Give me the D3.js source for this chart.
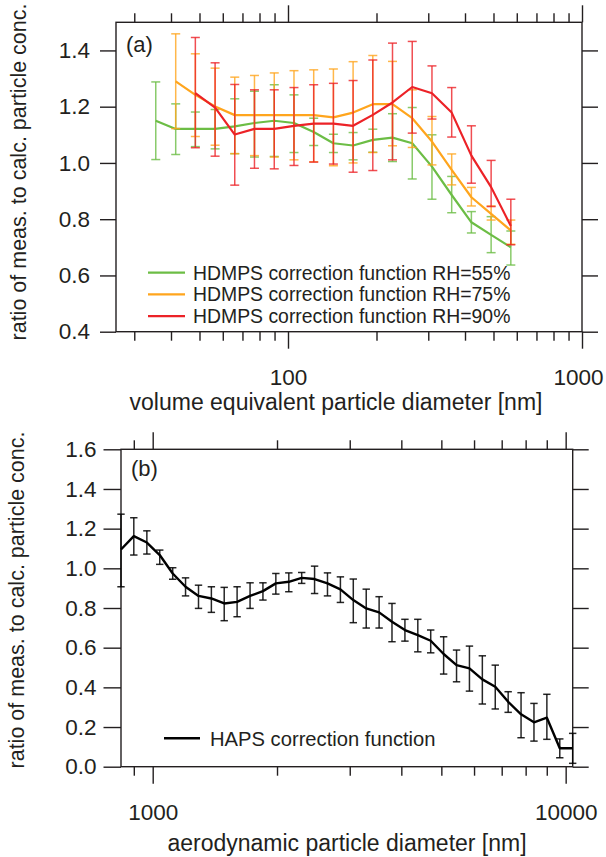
<!DOCTYPE html>
<html>
<head>
<meta charset="utf-8">
<script src="https://cdnjs.cloudflare.com/ajax/libs/d3/7.8.5/d3.min.js"></script>
<style>
body { margin: 0; background: #fff; }
text { font-family: "Liberation Sans", Arial, Helvetica, sans-serif; fill: #231f20; }
</style>
</head>
<body>
<div id="chart-area"></div>
<script>
// Panel (a): HDMPS, volume equivalent diameter [nm]
var diamA = [35.5, 41.5, 48.4, 56.5, 65.9, 76.9, 89.8, 104.8, 122.3, 142.7,
             166.5, 194.3, 226.7, 264.6, 308.8, 360.4, 420.5, 490.8, 572.7];

var rh55   = [1.150, 1.121, 1.121, 1.121, 1.130, 1.142, 1.150, 1.142, 1.110, 1.070,
              1.062, 1.082, 1.090, 1.070, 0.987, 0.886, 0.789, 0.744, 0.700];
var rh55Lo = [1.012, 1.030, 1.058, 1.050, 1.033, 1.021, 1.023, 1.037, 1.062, 1.037,
              1.011, 1.038, 1.005, 0.943, 0.871, 0.823, 0.751, 0.681, 0.637];
var rh55Hi = [1.288, 1.210, 1.181, 1.190, 1.228, 1.255, 1.278, 1.242, 1.159, 1.102,
              1.108, 1.120, 1.175, 1.197, 1.100, 0.952, 0.827, 0.809, 0.758];

var rh75   = [null, 1.290, 1.242, 1.201, 1.170, 1.170, 1.170, 1.170, 1.170, 1.162,
              1.179, 1.209, 1.209, 1.159, 1.076, 0.975, 0.878, 0.819, 0.760];
var rh75Lo = [null, 1.122, 1.094, 1.063, 1.033, 1.026, 1.021, 1.011, 1.004, 0.990,
              1.000, 1.037, 1.061, 1.055, 0.993, 0.922, 0.847, 0.797, 0.711];
var rh75Hi = [null, 1.459, 1.388, 1.337, 1.305, 1.311, 1.320, 1.328, 1.331, 1.334,
              1.360, 1.382, 1.361, 1.260, 1.165, 1.032, 0.913, 0.847, 0.797];

var rh90   = [null, null, 1.248, 1.197, 1.101, 1.121, 1.121, 1.132, 1.140, 1.140,
              1.132, 1.171, 1.215, 1.270, 1.248, 1.179, 1.026, 0.914, 0.776];
var rh90Lo = [null, null, 1.054, 1.024, 0.921, 0.981, 0.979, 0.991, 1.003, 0.996,
              0.967, 0.973, 1.011, 1.106, 1.156, 1.092, 0.928, 0.845, 0.709];
var rh90Hi = [null, null, 1.446, 1.356, 1.279, 1.260, 1.260, 1.268, 1.278, 1.283,
              1.293, 1.366, 1.426, 1.432, 1.345, 1.268, 1.132, 1.009, 0.871];

var namesA = ["HDMPS correction function RH=55%",
              "HDMPS correction function RH=75%",
              "HDMPS correction function RH=90%"];
var colorsA = ["#6cbd45", "#ffa51d", "#ec2227"];

var xTicksA = [100, 1000];
var xMinorA = [30, 40, 50, 60, 70, 80, 90, 200, 300, 400, 500, 600, 700, 800, 900];
var yTicksA = [0.4, 0.6, 0.8, 1.0, 1.2, 1.4];

// Panel (b): HAPS, aerodynamic diameter [nm]
var diamB = [838, 900, 968, 1040, 1118, 1201, 1291, 1387, 1490, 1601,
             1721, 1849, 1987, 2136, 2295, 2466, 2650, 2848, 3060, 3289,
             3534, 3797, 4081, 4385, 4712, 5064, 5442, 5848, 6284, 6753,
             7257, 7798, 8380, 9005, 9677, 10398];
var haps   = [1.095, 1.162, 1.130, 1.067, 0.974, 0.907, 0.861, 0.848, 0.823, 0.831,
              0.861, 0.885, 0.924, 0.932, 0.952, 0.946, 0.924, 0.894, 0.840, 0.798,
              0.778, 0.731, 0.689, 0.663, 0.635, 0.568, 0.512, 0.496, 0.440, 0.403,
              0.327, 0.264, 0.224, 0.247, 0.093, 0.093];
var hapsLo = [0.907, 1.067, 1.072, 1.020, 0.945, 0.861, 0.798, 0.778, 0.736, 0.756,
              0.798, 0.840, 0.870, 0.882, 0.924, 0.873, 0.861, 0.828, 0.726, 0.699,
              0.699, 0.630, 0.633, 0.579, 0.574, 0.467, 0.428, 0.381, 0.316, 0.291,
              0.274, 0.146, 0.129, 0.138, 0.045, 0.017];
var hapsHi = [1.273, 1.255, 1.189, 1.092, 1.003, 0.952, 0.915, 0.907, 0.904, 0.907,
              0.927, 0.927, 0.974, 0.977, 0.979, 1.011, 0.977, 0.957, 0.946, 0.895,
              0.857, 0.823, 0.743, 0.743, 0.689, 0.655, 0.588, 0.608, 0.559, 0.512,
              0.378, 0.373, 0.319, 0.365, 0.140, 0.168];

var xTicksB = [1000, 10000];
var xMinorB = [900, 2000, 3000, 4000, 5000, 6000, 7000, 8000, 9000];
var yTicksB = [0, 0.2, 0.4, 0.6, 0.8, 1.0, 1.2, 1.4, 1.6];

var svg = d3.select("#chart-area")
    .append("svg")
        .attr("width", 606)
        .attr("height", 857);

var ink = "#231f20";

function makePanel(p) {
    var width = p.right - p.left,
        height = p.bottom - p.top;

    var g = svg.append("g")
        .attr("transform", "translate(" + p.left + "," + p.top + ")");

    // X Scale (log)
    var x = d3.scaleLog()
        .domain(p.xDomain)
        .range([0, width]);

    // Y Scale
    var y = d3.scaleLinear()
        .domain(p.yDomain)
        .range([height, 0]);

    function style(sel) {
        sel.select(".domain").remove();
        sel.selectAll("line").attr("stroke", ink).attr("stroke-width", 1.4);
        sel.attr("font-size", 22.5)
            .attr("font-family", "'Liberation Sans', Arial, sans-serif");
    }

    // X axes, bottom and top: major + minor ticks
    var xMajor = g.append("g").attr("transform", "translate(0," + height + ")")
        .call(d3.axisBottom(x).tickValues(p.xTicks).tickSize(17).tickPadding(20)
            .tickFormat(d3.format("d")))
        .call(style);
    // keep the right-hand label inside the page
    xMajor.selectAll("text")
        .attr("dx", function(d){ return x(d) + 27 > 606 - p.left ? -(x(d) + 27 - (605 - p.left)) : 0; });
    g.append("g").attr("transform", "translate(0," + height + ")")
        .call(d3.axisBottom(x).tickValues(p.xMinor).tickSize(9).tickFormat(""))
        .call(style);
    g.append("g")
        .call(d3.axisTop(x).tickValues(p.xTicks).tickSize(17).tickFormat(""))
        .call(style);
    g.append("g")
        .call(d3.axisTop(x).tickValues(p.xMinor).tickSize(9).tickFormat(""))
        .call(style);

    // Y axes, left with labels, right mirrored
    g.append("g")
        .call(d3.axisLeft(y).tickValues(p.yTicks).tickSize(p.yTick)
            .tickPadding(p.yPad).tickFormat(d3.format(".1f")))
        .call(style);
    g.append("g").attr("transform", "translate(" + width + ",0)")
        .call(d3.axisRight(y).tickValues(p.yTicks).tickSize(16).tickFormat(""))
        .call(style);

    // Frame
    g.append("rect")
        .attr("width", width)
        .attr("height", height)
        .attr("fill", "none")
        .attr("stroke", ink)
        .attr("stroke-width", 1.4);

    // X Label
    g.append("text")
        .attr("x", p.xLabelX - p.left)
        .attr("y", p.xLabelY - p.top)
        .attr("font-size", "23px")
        .attr("text-anchor", "middle")
        .text(p.xLabel);

    // Y Label
    g.append("text")
        .attr("transform", "translate(" + (p.yLabelX - p.left) + "," +
            (p.yLabelY - p.top) + ") rotate(-90)")
        .attr("font-size", "21.5px")
        .attr("text-anchor", "middle")
        .text("ratio of meas. to calc. particle conc.");

    // Panel tag
    g.append("text")
        .attr("x", p.tagX - p.left)
        .attr("y", p.tagY - p.top)
        .attr("font-size", "22px")
        .text(p.tag);

    return { g: g, x: x, y: y };
}

function drawSeries(panel, xs, vals, lo, hi, color, lineW, capW, errOpacity) {
    var data = [];
    vals.forEach(function(v, i) {
        if (v !== null) data.push({ d: xs[i], v: v, lo: lo[i], hi: hi[i] });
    });
    var x = panel.x, y = panel.y;

    var eb = panel.g.append("g")
        .attr("stroke", color)
        .attr("stroke-width", 1.5)
        .attr("stroke-opacity", errOpacity);
    eb.selectAll(".bar").data(data).enter().append("line")
        .attr("x1", function(d){ return x(d.d); })
        .attr("x2", function(d){ return x(d.d); })
        .attr("y1", function(d){ return y(d.lo); })
        .attr("y2", function(d){ return y(d.hi); });
    eb.selectAll(".capLo").data(data).enter().append("line")
        .attr("x1", function(d){ return x(d.d) - capW; })
        .attr("x2", function(d){ return x(d.d) + capW; })
        .attr("y1", function(d){ return y(d.lo); })
        .attr("y2", function(d){ return y(d.lo); });
    eb.selectAll(".capHi").data(data).enter().append("line")
        .attr("x1", function(d){ return x(d.d) - capW; })
        .attr("x2", function(d){ return x(d.d) + capW; })
        .attr("y1", function(d){ return y(d.hi); })
        .attr("y2", function(d){ return y(d.hi); });

    var line = d3.line()
        .x(function(d){ return x(d.d); })
        .y(function(d){ return y(d.v); });

    panel.g.append("path")
        .datum(data)
        .attr("d", line)
        .attr("fill", "none")
        .attr("stroke", color)
        .attr("stroke-width", lineW)
        .attr("stroke-linejoin", "round");
}

// ---------- Panel (a)
var pA = makePanel({
    left: 116, right: 582, top: 22.3, bottom: 331.7,
    xDomain: [26, 1000], yDomain: [0.4, 1.5],
    xTicks: xTicksA, xMinor: xMinorA, yTicks: yTicksA,
    yTick: 16, yPad: 10,
    xLabel: "volume equivalent particle diameter [nm]", xLabelX: 336, xLabelY: 410,
    yLabelX: 26, yLabelY: 172,
    tag: "(a)", tagX: 126, tagY: 52
});

var seriesA = [[rh55, rh55Lo, rh55Hi], [rh75, rh75Lo, rh75Hi], [rh90, rh90Lo, rh90Hi]];
seriesA.forEach(function(s, i) {
    drawSeries(pA, diamA, s[0], s[1], s[2], colorsA[i], 2.2, 4.5, 0.8);
});

// Legend (a)
var legA = svg.append("g");
namesA.forEach(function(name, i) {
    var ly = 272.7 + i * 21.7;
    legA.append("line")
        .attr("x1", 148).attr("x2", 185)
        .attr("y1", ly).attr("y2", ly)
        .attr("stroke", colorsA[i])
        .attr("stroke-width", 2.2);
    legA.append("text")
        .attr("x", 193)
        .attr("y", ly)
        .attr("dy", "0.36em")
        .attr("font-size", "19.4px")
        .text(name);
});

// ---------- Panel (b)
var pB = makePanel({
    left: 121, right: 572.7, top: 449.3, bottom: 766.7,
    xDomain: [838, 10400], yDomain: [0, 1.6],
    xTicks: xTicksB, xMinor: xMinorB, yTicks: yTicksB,
    yTick: 17.5, yPad: 7,
    xLabel: "aerodynamic particle diameter [nm]", xLabelX: 347, xLabelY: 851,
    yLabelX: 24, yLabelY: 600,
    tag: "(b)", tagX: 131, tagY: 476
});

drawSeries(pB, diamB, haps, hapsLo, hapsHi, "#000", 2.4, 3.7, 0.85);

// Legend (b)
svg.append("line")
    .attr("x1", 164).attr("x2", 200)
    .attr("y1", 738.3).attr("y2", 738.3)
    .attr("stroke", "#000")
    .attr("stroke-width", 2.4);
svg.append("text")
    .attr("x", 210)
    .attr("y", 738.3)
    .attr("dy", "0.36em")
    .attr("font-size", "20.2px")
    .text("HAPS correction function");
</script>
</body>
</html>
